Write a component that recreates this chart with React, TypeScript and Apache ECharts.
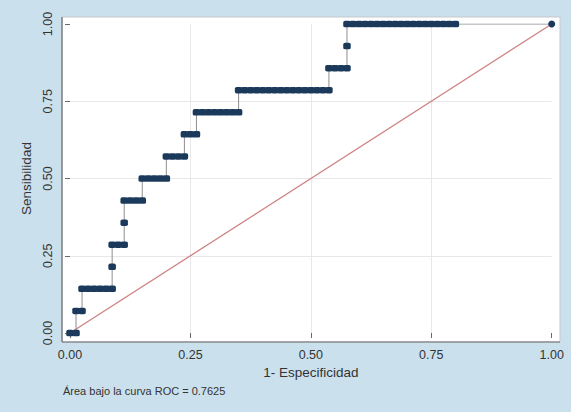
import React, { useEffect, useRef } from 'react';
import * as echarts from 'echarts';

// ROC curve: counts of false positives (of 80 negatives) and true positives (of 14 positives)
const falsePositives = [
  0, 1,
  1, 2,
  2, 3, 4, 5, 6, 7,
  7,
  7, 8, 9,
  9,
  9, 10, 11, 12,
  12, 13, 14, 15, 16,
  16, 17, 18, 19,
  19, 20, 21,
  21, 22, 23, 24, 25, 26, 27, 28,
  28, 29, 30, 31, 32, 33, 34, 35, 36, 37, 38, 39, 40, 41, 42, 43,
  43, 44, 45, 46,
  46,
  46, 47, 48, 49, 50, 51, 52, 53, 54, 55, 56, 57, 58, 59, 60, 61, 62, 63, 64,
  80,
];
const truePositives = [
  0, 0,
  1, 1,
  2, 2, 2, 2, 2, 2,
  3,
  4, 4, 4,
  5,
  6, 6, 6, 6,
  7, 7, 7, 7, 7,
  8, 8, 8, 8,
  9, 9, 9,
  10, 10, 10, 10, 10, 10, 10, 10,
  11, 11, 11, 11, 11, 11, 11, 11, 11, 11, 11, 11, 11, 11, 11, 11,
  12, 12, 12, 12,
  13,
  14, 14, 14, 14, 14, 14, 14, 14, 14, 14, 14, 14, 14, 14, 14, 14, 14, 14, 14,
  14,
];
const totalNegatives = 80;
const totalPositives = 14;
const referenceX = [0, 1];
const referenceY = [0, 1];
const tickLabels = ['0.00', '0.25', '0.50', '0.75', '1.00'];
const xTitle = '1- Especificidad';
const yTitle = 'Sensibilidad';
const note = 'Área bajo la curva ROC = 0.7625';

const FONT = '"Liberation Sans", Arial, sans-serif';

export default function App() {
  const ref = useRef<HTMLDivElement>(null);
  useEffect(() => {
    const chart = echarts.init(ref.current as HTMLDivElement, null, { renderer: 'svg' });
    const last = falsePositives.length - 1;
    const roc = falsePositives.map((n, i) => {
      const value = [n / totalNegatives, truePositives[i] / totalPositives];
      return i === last ? { value, symbol: 'circle', symbolSize: 7 } : value;
    });
    const ref45 = referenceX.map((x, i) => [x, referenceY[i]]);
    const fmt = (v: number) => tickLabels[Math.round(v * 4)] ?? v.toFixed(2);
    chart.setOption({
      animation: false,
      backgroundColor: '#cbe0ed',
      grid: { left: 70, right: 19.3, top: 24, bottom: 79 },
      graphic: [
        {
          type: 'rect', z: -10, silent: true,
          shape: { x: 62, y: 17, width: 498, height: 325 },
          style: { fill: '#ffffff', stroke: '#c4c8cc', lineWidth: 1 },
        },
        {
          type: 'line', z: 5, silent: true,
          shape: { x1: 62, y1: 17, x2: 62, y2: 342 },
          style: { stroke: '#6a6a6a', lineWidth: 1.2 },
        },
        {
          type: 'line', z: 5, silent: true,
          shape: { x1: 62, y1: 342, x2: 560, y2: 342 },
          style: { stroke: '#6a6a6a', lineWidth: 1.2 },
        },
        {
          type: 'text', x: 63, y: 385, silent: true,
          style: { text: note, fontSize: 11, fill: '#333', fontFamily: FONT },
        },
      ],
      xAxis: {
        type: 'value', min: 0, max: 1, interval: 0.25, offset: 9,
        axisLine: { show: false },
        axisTick: { show: true, length: 5, lineStyle: { color: '#6a6a6a' } },
        axisLabel: { formatter: fmt, fontSize: 12.5, color: '#333', margin: 6, fontFamily: FONT },
        splitLine: { show: true, showMinLine: false, showMaxLine: false, lineStyle: { color: '#e8e8e8', width: 1 } },
        name: xTitle, nameLocation: 'middle', nameGap: 23,
        nameTextStyle: { fontSize: 13.5, color: '#333', fontFamily: FONT },
      },
      yAxis: {
        type: 'value', min: 0, max: 1, interval: 0.25, offset: 8,
        axisLine: { show: false },
        axisTick: { show: true, length: 5, lineStyle: { color: '#6a6a6a' } },
        axisLabel: { formatter: fmt, fontSize: 12.5, color: '#333', margin: 8, rotate: 90, fontFamily: FONT },
        splitLine: { show: true, showMinLine: false, showMaxLine: false, lineStyle: { color: '#e8e8e8', width: 1 } },
        name: yTitle, nameLocation: 'middle', nameGap: 27, nameRotate: 90,
        nameTextStyle: { fontSize: 13.5, color: '#333', fontFamily: FONT },
      },
      series: [
        {
          type: 'line', data: ref45, symbol: 'none', z: 1,
          lineStyle: { color: '#cf8282', width: 1.3 },
        },
        {
          type: 'line', data: roc, symbol: 'roundRect', symbolSize: [7.5, 6.5],
          showSymbol: true, showAllSymbol: true, z: 3,
          lineStyle: { color: '#8e8e8e', width: 1 },
          itemStyle: { color: '#1b3a5b' },
        },
      ],
    });
    return () => chart.dispose();
  }, []);
  return <div ref={ref} style={{ position: 'fixed', left: 0, top: 0, width: 571, height: 412 }} />;
}
